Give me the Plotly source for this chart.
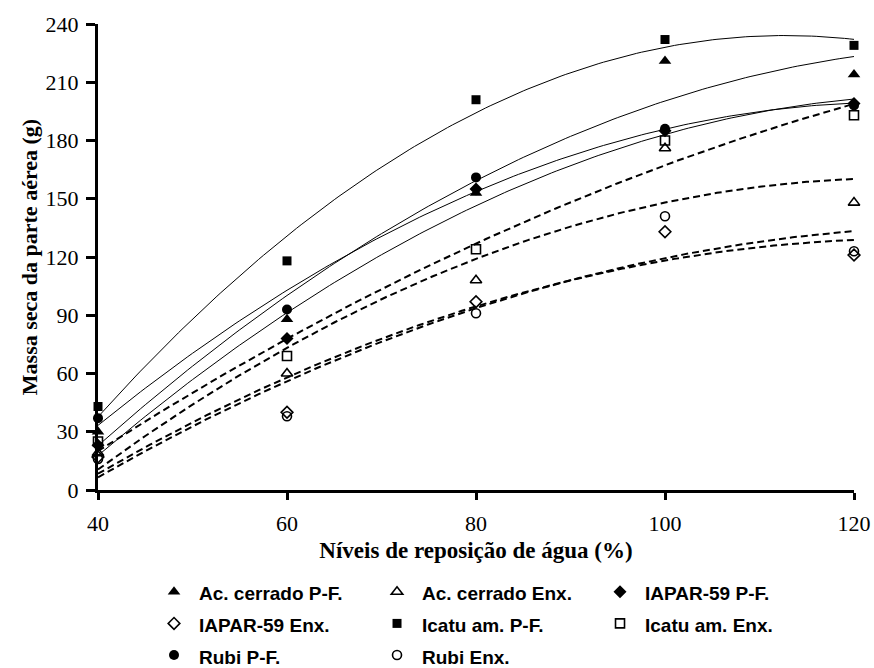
import numpy as np
import plotly.graph_objects as go

x_levels = [40, 60, 80, 100, 120]

ac_cerrado_pf = [30, 88, 153, 221, 214]
ac_cerrado_enx = [19, 60, 108, 176, 148]
iapar_pf = [23, 78, 155, 185, 199]
iapar_enx = [17, 40, 97, 133, 121]
icatu_pf = [43, 118, 201, 232, 229]
icatu_enx = [25, 69, 124, 180, 193]
rubi_pf = [37, 93, 161, 186, 198]
rubi_enx = [16, 38, 91, 141, 123]

series = [
    ("Ac. cerrado P-F.", ac_cerrado_pf, "triangle-up", True, 11),
    ("Ac. cerrado Enx.", ac_cerrado_enx, "triangle-up-open", False, 10),
    ("IAPAR-59 P-F.", iapar_pf, "diamond", True, 10),
    ("IAPAR-59 Enx.", iapar_enx, "diamond-open", False, 9),
    ("Icatu am. P-F.", icatu_pf, "square", True, 9),
    ("Icatu am. Enx.", icatu_enx, "square-open", False, 9),
    ("Rubi P-F.", rubi_pf, "circle", True, 10),
    ("Rubi Enx.", rubi_enx, "circle-open", False, 9),
]

fig = go.Figure()

xs = np.linspace(40, 120, 161)
for name, vals, sym, filled, size in series:
    coef = np.polyfit(x_levels, vals, 2)
    fig.add_trace(go.Scatter(
        x=xs, y=np.polyval(coef, xs), mode="lines", showlegend=False,
        hoverinfo="skip", cliponaxis=False,
        line=dict(color="black", width=1.0 if filled else 2.0,
                  dash="solid" if filled else "7px,4px")))

for name, vals, sym, filled, size in series:
    fig.add_trace(go.Scatter(
        x=x_levels, y=vals, mode="markers",
        name='<span style="font-size:19px">' + name + '</span>',
        cliponaxis=False,
        marker=dict(symbol=sym, size=size,
                    color="black",
                    line=dict(color="black", width=1.6 if not filled else 0))))

fig.update_layout(
    width=874, height=668,
    margin=dict(l=98, r=20, t=24, b=178),
    plot_bgcolor="white", paper_bgcolor="white",
    font=dict(family="Liberation Serif", color="black"),
    showlegend=True,
    legend=dict(
        orientation="h", xref="container", yref="container",
        x=0.1705, xanchor="left", y=0.1452, yanchor="top",
        font=dict(family="Liberation Sans", size=22, color="black", weight="bold"),
        entrywidth=168, entrywidthmode="pixels", itemwidth=40,
        bgcolor="rgba(0,0,0,0)",
    ),
    xaxis=dict(
        range=[40, 120], tickvals=[40, 60, 80, 100, 120], automargin=False,
        showline=True, linecolor="black", linewidth=3,
        ticks="outside", ticklen=7, tickwidth=2.5, tickcolor="black",
        showgrid=False, zeroline=False,
        tickfont=dict(family="Liberation Serif", size=22, color="black"),
        ticklabelstandoff=5,
        title=dict(text="<b>Níveis de reposição de água (%)</b>", standoff=7,
                   font=dict(family="Liberation Serif", size=23, color="black")),
    ),
    yaxis=dict(
        range=[0, 240], tickvals=[0, 30, 60, 90, 120, 150, 180, 210, 240],
        automargin=False,
        showline=True, linecolor="black", linewidth=3,
        ticks="outside", ticklen=9, tickwidth=2.5, tickcolor="black",
        showgrid=False, zeroline=False,
        tickfont=dict(family="Liberation Serif", size=22, color="black"),
        ticklabelstandoff=3,
        title=dict(text="<b>Massa seca da parte aérea (g)</b>", standoff=2,
                   font=dict(family="Liberation Serif", size=22, color="black")),
    ),
)

fig.write_html("out.html",
               config={"displayModeBar": False},
               post_script="document.body.style.margin='0';document.body.style.overflow='hidden';")
